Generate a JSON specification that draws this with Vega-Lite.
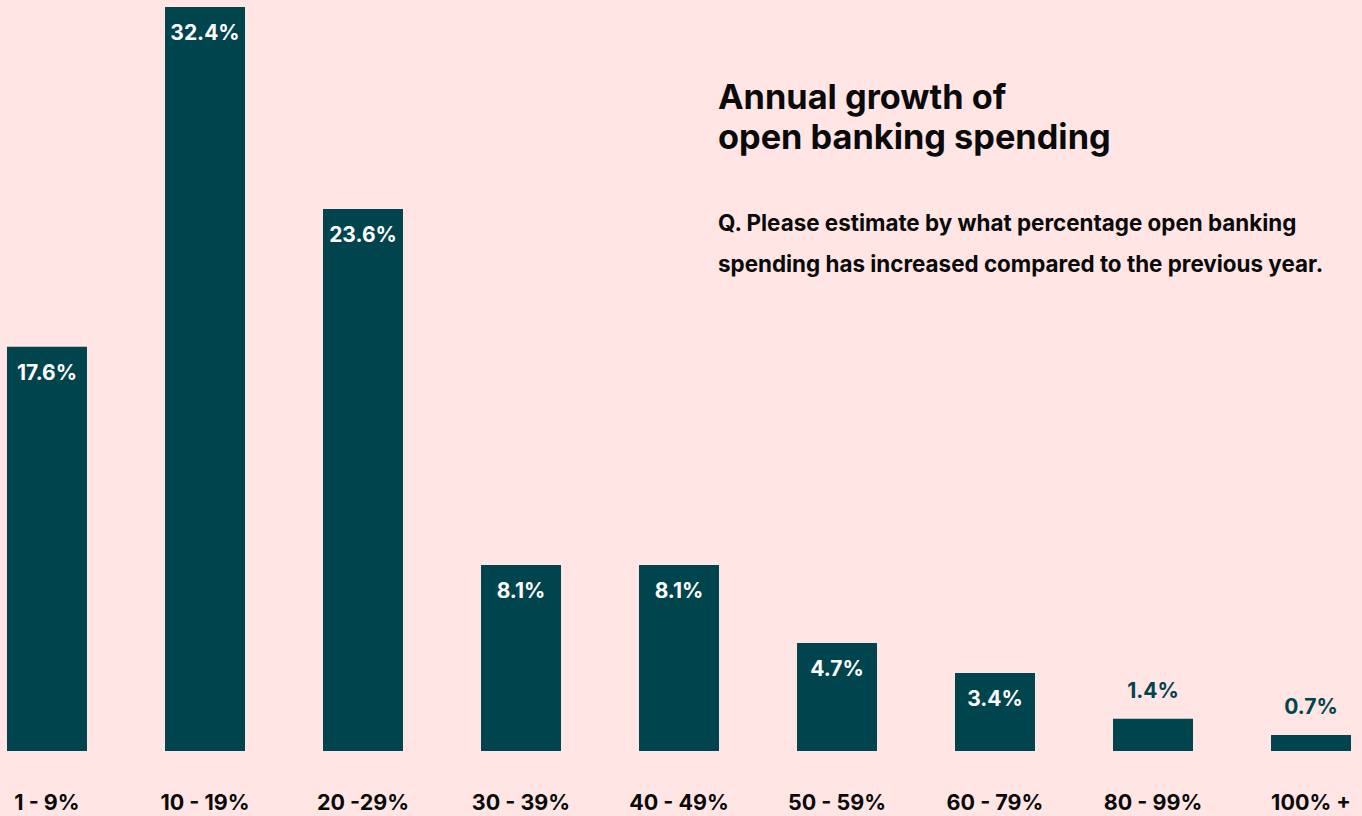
{
  "$schema": "https://vega.github.io/schema/vega-lite/v6.json",
  "width": 1358,
  "height": 751,
  "autosize": {"type": "none"},
  "padding": {"left": 0, "top": 0, "right": 4, "bottom": 65},
  "background": "#FFE6E4",
  "config": {
    "view": {"stroke": null},
    "font": "Inter"
  },
  "title": {
    "text": ["Annual growth of", "open banking spending"],
    "subtitle": ["Q. Please estimate by what percentage open banking", "spending has increased compared to the previous year."],
    "anchor": "start",
    "frame": "group",
    "orient": "top",
    "baseline": "top",
    "dx": 718,
    "dy": 280,
    "font": "Inter",
    "fontSize": 34.3,
    "fontWeight": "bold",
    "color": "#0A0A0A",
    "lineHeight": 40,
    "subtitleFont": "Inter",
    "subtitleFontSize": 22.4,
    "subtitleFontWeight": "bold",
    "subtitleColor": "#0A0A0A",
    "subtitleLineHeight": 41,
    "subtitlePadding": 56
  },
  "data": {
    "values": [
      {"range": "1 - 9%", "value": 0.176},
      {"range": "10 - 19%", "value": 0.324},
      {"range": "20 -29%", "value": 0.236},
      {"range": "30 - 39%", "value": 0.081},
      {"range": "40 - 49%", "value": 0.081},
      {"range": "50 - 59%", "value": 0.047},
      {"range": "60 - 79%", "value": 0.034},
      {"range": "80 - 99%", "value": 0.014},
      {"range": "100% +", "value": 0.007}
    ]
  },
  "encoding": {
    "x": {
      "field": "range",
      "type": "nominal",
      "sort": null,
      "scale": {"paddingInner": 0.4937, "paddingOuter": 0.0443},
      "axis": {
        "title": null,
        "domain": false,
        "ticks": false,
        "labelAngle": 0,
        "labelFont": "Inter",
        "labelFontSize": 21.5,
        "labelFontWeight": "bold",
        "labelColor": "#0A0A0A",
        "labelPadding": 41,
        "labelBaseline": "top"
      }
    },
    "y": {
      "field": "value",
      "type": "quantitative",
      "scale": {"domain": [0, 0.327], "nice": false},
      "axis": null
    }
  },
  "layer": [
    {"mark": {"type": "bar", "color": "#00444E"}},
    {
      "transform": [{"filter": "datum.value >= 0.02"}],
      "mark": {"type": "text", "baseline": "middle", "dy": 27, "fontSize": 21, "fontWeight": "bold", "color": "#FFFFFF", "font": "Inter"},
      "encoding": {"text": {"field": "value", "type": "quantitative", "format": ".1%"}}
    },
    {
      "transform": [{"filter": "datum.value < 0.02"}],
      "mark": {"type": "text", "baseline": "middle", "dy": -27, "fontSize": 21, "fontWeight": "bold", "color": "#00444E", "font": "Inter"},
      "encoding": {"text": {"field": "value", "type": "quantitative", "format": ".1%"}}
    }
  ]
}
